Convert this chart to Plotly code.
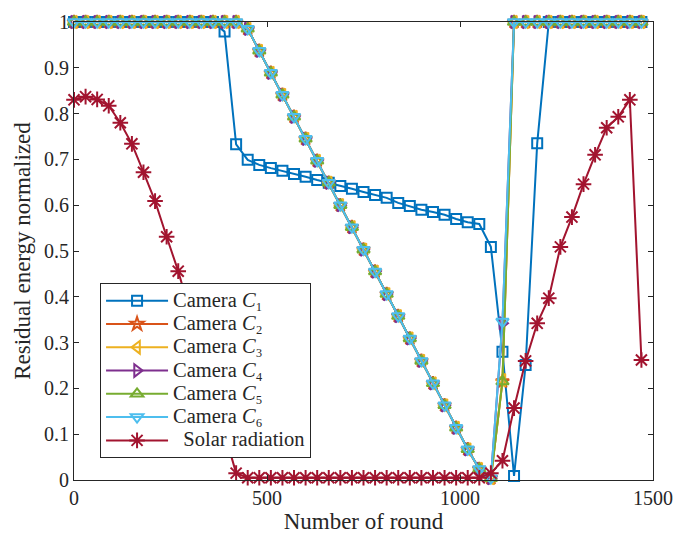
import plotly.graph_objects as go

rounds = [30 * i for i in range(50)]

camera1 = [1.0] * 13 + [0.979, 0.733, 0.699, 0.688, 0.681, 0.675, 0.668, 0.662, 0.655,
                        0.649, 0.642, 0.636, 0.629, 0.622, 0.616, 0.605, 0.598, 0.590,
                        0.585, 0.579, 0.570, 0.563, 0.559, 0.509, 0.280, 0.009, 0.251,
                        0.735] + [1.0] * 9

cam_descent = [1.0] * 15 + [0.985, 0.937, 0.889, 0.841, 0.793, 0.745, 0.697, 0.649, 0.600,
                            0.552, 0.503, 0.455, 0.406, 0.358, 0.309, 0.260, 0.211, 0.163,
                            0.114, 0.067, 0.024, 0.004]
camera2 = cam_descent + [0.215] + [1.0] * 12
camera3 = cam_descent + [0.218] + [1.0] * 12
camera4 = cam_descent + [0.342] + [1.0] * 12
camera5 = cam_descent + [0.215] + [1.0] * 12
camera6 = cam_descent + [0.346] + [1.0] * 12

solar = [0.830, 0.837, 0.831, 0.817, 0.780, 0.734, 0.672, 0.609, 0.531, 0.456,
         0.368, 0.280, 0.192, 0.103, 0.015] + [0.005] * 21 + \
        [0.015, 0.042, 0.157, 0.260, 0.342, 0.397, 0.509, 0.574, 0.646, 0.710,
         0.769, 0.793, 0.830, 0.262]

labels = ["Camera <i>C</i>\u2081", "Camera <i>C</i>\u2082",
          "Camera <i>C</i>\u2083", "Camera <i>C</i>\u2084",
          "Camera <i>C</i>\u2085", "Camera <i>C</i>\u2086",
          "  Solar radiation"]
series = [camera1, camera2, camera3, camera4, camera5, camera6, solar]
colors = ["#0072BD", "#D95319", "#EDB120", "#7E2F8E", "#77AC30", "#4DBEEE", "#A2142F"]
symbols = ["square-open", "star-open", "triangle-left-open", "triangle-right-open",
           "triangle-up-open", "triangle-down-open", "asterisk-open"]
sizes = [10, 10, 11, 11, 11, 11, 13]

FONT = "Liberation Serif"
AX = "#262626"

fig = go.Figure()
for label, ys, c, s, sz in zip(labels, series, colors, symbols, sizes):
    fig.add_trace(go.Scatter(
        x=rounds, y=ys,
        name='<span style="font-size:20.5px;font-family:Liberation Serif,serif">' + label + '</span>',
        mode="lines+markers",
        line=dict(color=c, width=2),
        marker=dict(symbol=s, size=sz, color=c, line=dict(color=c, width=2)),
        cliponaxis=False,
    ))

fig.update_layout(
    width=674, height=536,
    margin=dict(l=74, r=21, t=22, b=56, autoexpand=False),
    paper_bgcolor="white", plot_bgcolor="white",
    font=dict(family=FONT, size=20, color=AX),
    showlegend=True,
    legend=dict(x=0.045, y=0.43, xanchor="left", yanchor="top",
                bgcolor="white", bordercolor=AX, borderwidth=1,
                font=dict(family=FONT, size=15.6, color=AX),
                itemwidth=62, tracegroupgap=0),
    xaxis=dict(range=[0, 1500], dtick=500, tick0=0, showgrid=False, zeroline=False,
               automargin=False,
               showline=True, linecolor=AX, linewidth=1, mirror="ticks",
               ticks="inside", ticklen=5, tickcolor=AX,
               tickfont=dict(family=FONT, size=20, color=AX),
               title=dict(text="Number of round", font=dict(family=FONT, size=23, color=AX),
                          standoff=2)),
    yaxis=dict(range=[0, 1], dtick=0.1, tick0=0, showgrid=False, zeroline=False,
               automargin=False,
               showline=True, linecolor=AX, linewidth=1, mirror="ticks",
               ticks="inside", ticklen=5, tickcolor=AX,
               tickfont=dict(family=FONT, size=20, color=AX),
               title=dict(text="Residual energy normalized",
                          font=dict(family=FONT, size=23, color=AX), standoff=6)),
)

fig.write_html("out.html")
